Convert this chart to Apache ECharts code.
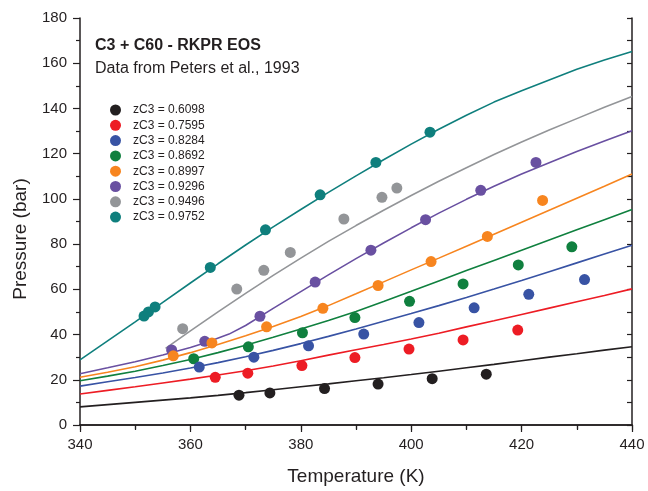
<!DOCTYPE html>
<html>
<head>
<meta charset="utf-8">
<script src="https://cdn.jsdelivr.net/npm/echarts@6/dist/echarts.min.js"></script>
<style>
  html, body { margin: 0; padding: 0; background: #ffffff; }
  #chart { width: 648px; height: 491px; }
</style>
</head>
<body>
<div id="chart"></div>
<script>
// C3 + C60 bubble-point pressures: Peters et al. (1993) data and RKPR EOS curves

const compositions = ['0.6098', '0.7595', '0.8284', '0.8692', '0.8997', '0.9296', '0.9496', '0.9752'];
const colors = ['#231f20', '#ed1c24', '#3853a4', '#10803f', '#f7851f', '#6950a1', '#939598', '#0f7f7d'];

const xTicks = [340, 360, 380, 400, 420, 440];
const yTicks = [0, 20, 40, 60, 80, 100, 120, 140, 160, 180];

// Experimental points (temperature in K, pressure in bar)
const expT_0 = [368.8, 374.4, 384.3, 394.0, 403.8, 413.6];
const expP_0 = [13.2, 14.2, 16.1, 18.1, 20.5, 22.5];
const expT_1 = [364.5, 370.4, 380.2, 389.8, 399.6, 409.4, 419.3];
const expP_1 = [21.1, 22.9, 26.3, 29.8, 33.6, 37.6, 42.0];
const expT_2 = [361.6, 371.5, 381.4, 391.4, 401.4, 411.4, 421.3, 431.4];
const expP_2 = [25.6, 30.0, 35.0, 40.2, 45.3, 51.8, 57.8, 64.3];
const expT_3 = [360.6, 370.5, 380.3, 389.8, 399.7, 409.4, 419.4, 429.1];
const expP_3 = [29.3, 34.6, 40.8, 47.5, 54.7, 62.4, 70.8, 78.8];
const expT_4 = [356.9, 363.9, 373.8, 384.0, 394.0, 403.6, 413.8, 423.8];
const expP_4 = [30.6, 36.3, 43.4, 51.6, 61.7, 72.3, 83.4, 99.3];
const expT_5 = [356.6, 362.6, 372.6, 382.6, 392.7, 402.6, 412.6, 422.6];
const expP_5 = [33.2, 37.0, 48.1, 63.2, 77.3, 90.8, 103.8, 116.1];
const expT_6 = [358.6, 368.4, 373.3, 378.1, 387.8, 394.7, 397.4];
const expP_6 = [42.6, 60.1, 68.4, 76.3, 91.1, 100.7, 104.8];
const expT_7 = [351.6, 352.4, 353.6, 363.6, 373.6, 383.5, 393.6, 403.4];
const expP_7 = [48.2, 50.0, 52.2, 69.7, 86.3, 101.8, 116.1, 129.5];

// RKPR EOS curves
const modelT = [340, 345, 350, 355, 360, 365, 370, 375, 380, 385, 390, 395, 400, 405, 410, 415, 420, 425, 430, 435, 440];
const modelP_0 = [8.0, 9.0, 10.0, 11.0, 12.0, 13.1, 14.3, 15.6, 16.9, 18.2, 19.6, 20.9, 22.3, 23.8, 25.3, 26.8, 28.4, 30.0, 31.5, 33.1, 34.6];
const modelP_1 = [13.7, 15.3, 16.9, 18.6, 20.3, 22.1, 24.0, 26.1, 28.4, 30.9, 33.3, 35.6, 38.0, 40.6, 43.4, 46.1, 48.9, 51.7, 54.5, 57.3, 60.2];
const modelP_2 = [17.2, 19.1, 21.0, 23.0, 25.2, 27.6, 30.2, 33.0, 36.0, 39.2, 42.5, 45.9, 49.3, 52.8, 56.4, 60.1, 63.9, 67.8, 71.7, 75.6, 79.5];
const modelP_3 = [19.6, 21.6, 23.8, 26.3, 29.0, 32.0, 35.3, 38.8, 42.5, 46.2, 50.2, 54.6, 59.1, 63.7, 68.3, 72.8, 77.3, 81.8, 86.3, 90.8, 95.3];
const modelP_4 = [21.1, 23.3, 25.8, 28.7, 32.0, 35.6, 39.5, 43.6, 48.0, 52.8, 58.0, 63.3, 68.6, 73.8, 79.1, 84.4, 89.7, 95.0, 100.3, 105.6, 111.0];
const purpleT = [340, 345, 350, 355, 360, 363, 367, 370, 375, 380, 385, 390, 395, 400, 405, 410, 415, 420, 425, 430, 435, 440];
const modelP_5 = [22.7, 25.3, 28.0, 31.0, 34.3, 36.6, 40.2, 44.0, 51.6, 59.0, 66.4, 73.6, 80.5, 87.2, 93.7, 99.8, 105.6, 111.0, 116.0, 121.0, 125.6, 130.1];
const grayT = [355.5, 360, 365, 370, 375, 380, 385, 390, 395, 400, 405, 410, 415, 420, 425, 430, 435, 440];
const modelP_6 = [33.9, 41.6, 50.0, 58.2, 66.2, 73.8, 81.2, 88.2, 95.0, 101.5, 107.8, 113.8, 119.6, 125.2, 130.5, 135.5, 140.5, 145.3];
const modelP_7 = [28.8, 37.2, 45.6, 54.2, 62.8, 71.3, 79.6, 87.6, 95.3, 102.9, 110.2, 117.3, 124.2, 130.8, 137.0, 142.8, 147.8, 152.6, 157.3, 161.4, 165.2];

const expT = [expT_0, expT_1, expT_2, expT_3, expT_4, expT_5, expT_6, expT_7];
const expP = [expP_0, expP_1, expP_2, expP_3, expP_4, expP_5, expP_6, expP_7];
const curveT = [modelT, modelT, modelT, modelT, modelT, purpleT, grayT, modelT];
const curveP = [modelP_0, modelP_1, modelP_2, modelP_3, modelP_4, modelP_5, modelP_6, modelP_7];

const pairs = (xs, ys) => xs.map((x, i) => [x, ys[i]]);
const names = compositions.map(c => 'zC3 = ' + c);

const FONT = '"Liberation Sans", Arial, Helvetica, sans-serif';
const INK = '#231f20';

const series = [];
// model curves below the markers
curveT.forEach((ts, i) => {
  series.push({
    type: 'line',
    name: names[i] + ' RKPR',
    data: pairs(ts, curveP[i]),
    showSymbol: false,
    symbol: 'none',
    smooth: false,
    lineStyle: { color: colors[i], width: 1.6 },
    z: 2,
    silent: true
  });
});
// markers, highest composition first so lower ones sit on top
for (let i = expT.length - 1; i >= 0; i--) {
  series.push({
    type: 'scatter',
    name: names[i],
    data: pairs(expT[i], expP[i]),
    symbol: 'circle',
    symbolSize: 11,
    itemStyle: { color: colors[i], opacity: 1 },
    z: 3
  });
}

const axisLine = { show: true, lineStyle: { color: INK, width: 1.5 } };

const option = {
  animation: false,
  backgroundColor: '#ffffff',
  textStyle: { fontFamily: FONT },
  title: {
    text: 'C3 + C60 - RKPR EOS',
    subtext: 'Data from Peters et al., 1993',
    left: 95,
    top: 38,
    padding: 0,
    itemGap: 7,
    textStyle: { fontFamily: FONT, fontSize: 16, fontWeight: 'bold', color: INK },
    subtextStyle: { fontFamily: FONT, fontSize: 16, color: INK }
  },
  legend: {
    data: names,
    orient: 'vertical',
    left: 110,
    top: 104,
    padding: 0,
    icon: 'circle',
    itemWidth: 25,
    itemHeight: 11,
    itemGap: 3.3,
    textStyle: { fontFamily: FONT, fontSize: 12, color: INK },
    selectedMode: false
  },
  graphic: [
    {
      type: 'text',
      x: 21,
      y: 239,
      rotation: Math.PI / 2,
      style: {
        text: 'Pressure (bar)',
        fontFamily: FONT,
        fontSize: 19,
        fill: INK,
        align: 'center',
        verticalAlign: 'middle'
      }
    }
  ],
  grid: { left: 80, right: 16, top: 18, bottom: 62, containLabel: false },
  xAxis: [
    {
      type: 'value', min: xTicks[0], max: xTicks[xTicks.length - 1], interval: 20,
      position: 'bottom',
      name: 'Temperature (K)', nameLocation: 'middle', nameGap: 42,
      nameTextStyle: { fontFamily: FONT, fontSize: 19, color: INK },
      axisLine: axisLine,
      axisTick: { show: true, inside: false, length: 7, lineStyle: { color: INK, width: 1.2 } },
      minorTick: { show: true, splitNumber: 2, length: 4, lineStyle: { color: INK, width: 1.2 } },
      axisLabel: { fontFamily: FONT, fontSize: 15, color: INK, margin: 12 },
      splitLine: { show: false }
    },
    {
      type: 'value', min: xTicks[0], max: xTicks[xTicks.length - 1], interval: 10,
      position: 'top',
      axisLine: axisLine,
      axisTick: { show: true, inside: true, length: 5, lineStyle: { color: INK, width: 1.2 } },
      axisLabel: { show: false },
      splitLine: { show: false }
    }
  ],
  yAxis: [
    {
      type: 'value', min: yTicks[0], max: yTicks[yTicks.length - 1], interval: 20,
      position: 'left',
      axisLine: axisLine,
      axisTick: { show: true, inside: false, length: 7, lineStyle: { color: INK, width: 1.2 } },
      minorTick: { show: true, splitNumber: 2, length: 4, lineStyle: { color: INK, width: 1.2 } },
      axisLabel: { fontFamily: FONT, fontSize: 15, color: INK, margin: 13 },
      splitLine: { show: false }
    },
    {
      type: 'value', min: yTicks[0], max: yTicks[yTicks.length - 1], interval: 10,
      position: 'right',
      axisLine: axisLine,
      axisTick: { show: true, inside: true, length: 5, lineStyle: { color: INK, width: 1.2 } },
      axisLabel: { show: false },
      splitLine: { show: false }
    }
  ],
  series: series
};

const chart = echarts.init(document.getElementById('chart'), null, { renderer: 'canvas' });
chart.setOption(option);
</script>
</body>
</html>
